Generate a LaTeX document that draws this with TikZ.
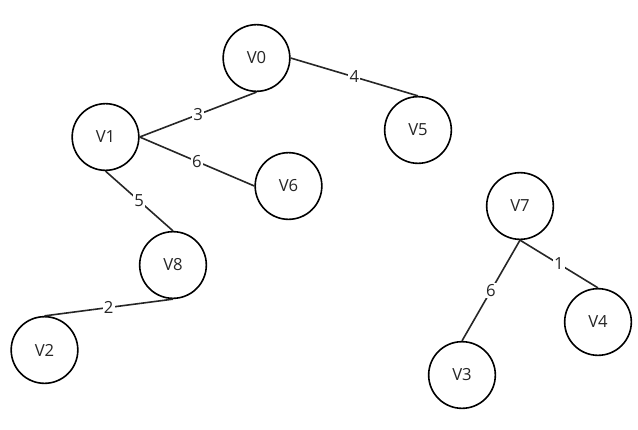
\documentclass[tikz,border=0pt]{standalone}
\usepackage{fontspec}
\setmainfont{Open Sans}
\usepackage{tikz}
\usetikzlibrary{positioning}

\begin{document}
\begin{tikzpicture}[x=0.75pt, y=-0.75pt,
    vertex/.style={circle, draw, line width=1.2pt, minimum size=50pt, inner sep=0pt, font=\fontsize{12.5}{14}\selectfont, text=black!85},
    edge/.style={line width=1.2pt, draw=black!85},
    weight/.style={midway, fill=white, inner sep=1pt, font=\fontsize{12.5}{14}\selectfont, text=black!85}]
    \useasboundingbox (0,0) rectangle (638,429);

    % Vertices
    \node [vertex] (v0) at (256.5,58) {V0};
    \node [vertex] (v1) at (105.5,137) {V1};
    \node [vertex] (v5) at (418,130) {V5};
    \node [vertex] (v6) at (288.5,186) {V6};
    \node [vertex] (v8) at (173,265) {V8};
    \node [vertex] (v2) at (44.5,350) {V2};
    \node [vertex] (v7) at (520,206) {V7};
    \node [vertex] (v4) at (598,322) {V4};
    \node [vertex] (v3) at (462,375) {V3};

    % Weighted edges
    \draw [edge] (v0.east) -- (v5.north) node [weight] {4};
    \draw [edge] (v0.south) -- (v1.east) node [weight] {3};
    \draw [edge] (v1.east) -- (v6.west) node [weight] {6};
    \draw [edge] (v1.south) -- (v8.north) node [weight] {5};
    \draw [edge] (v8.south) -- (v2.north) node [weight] {2};
    \draw [edge] (v7.south) -- (v3.north) node [weight] {6};
    \draw [edge] (v7.south) -- (v4.north) node [weight] {1};
\end{tikzpicture}
\end{document}
